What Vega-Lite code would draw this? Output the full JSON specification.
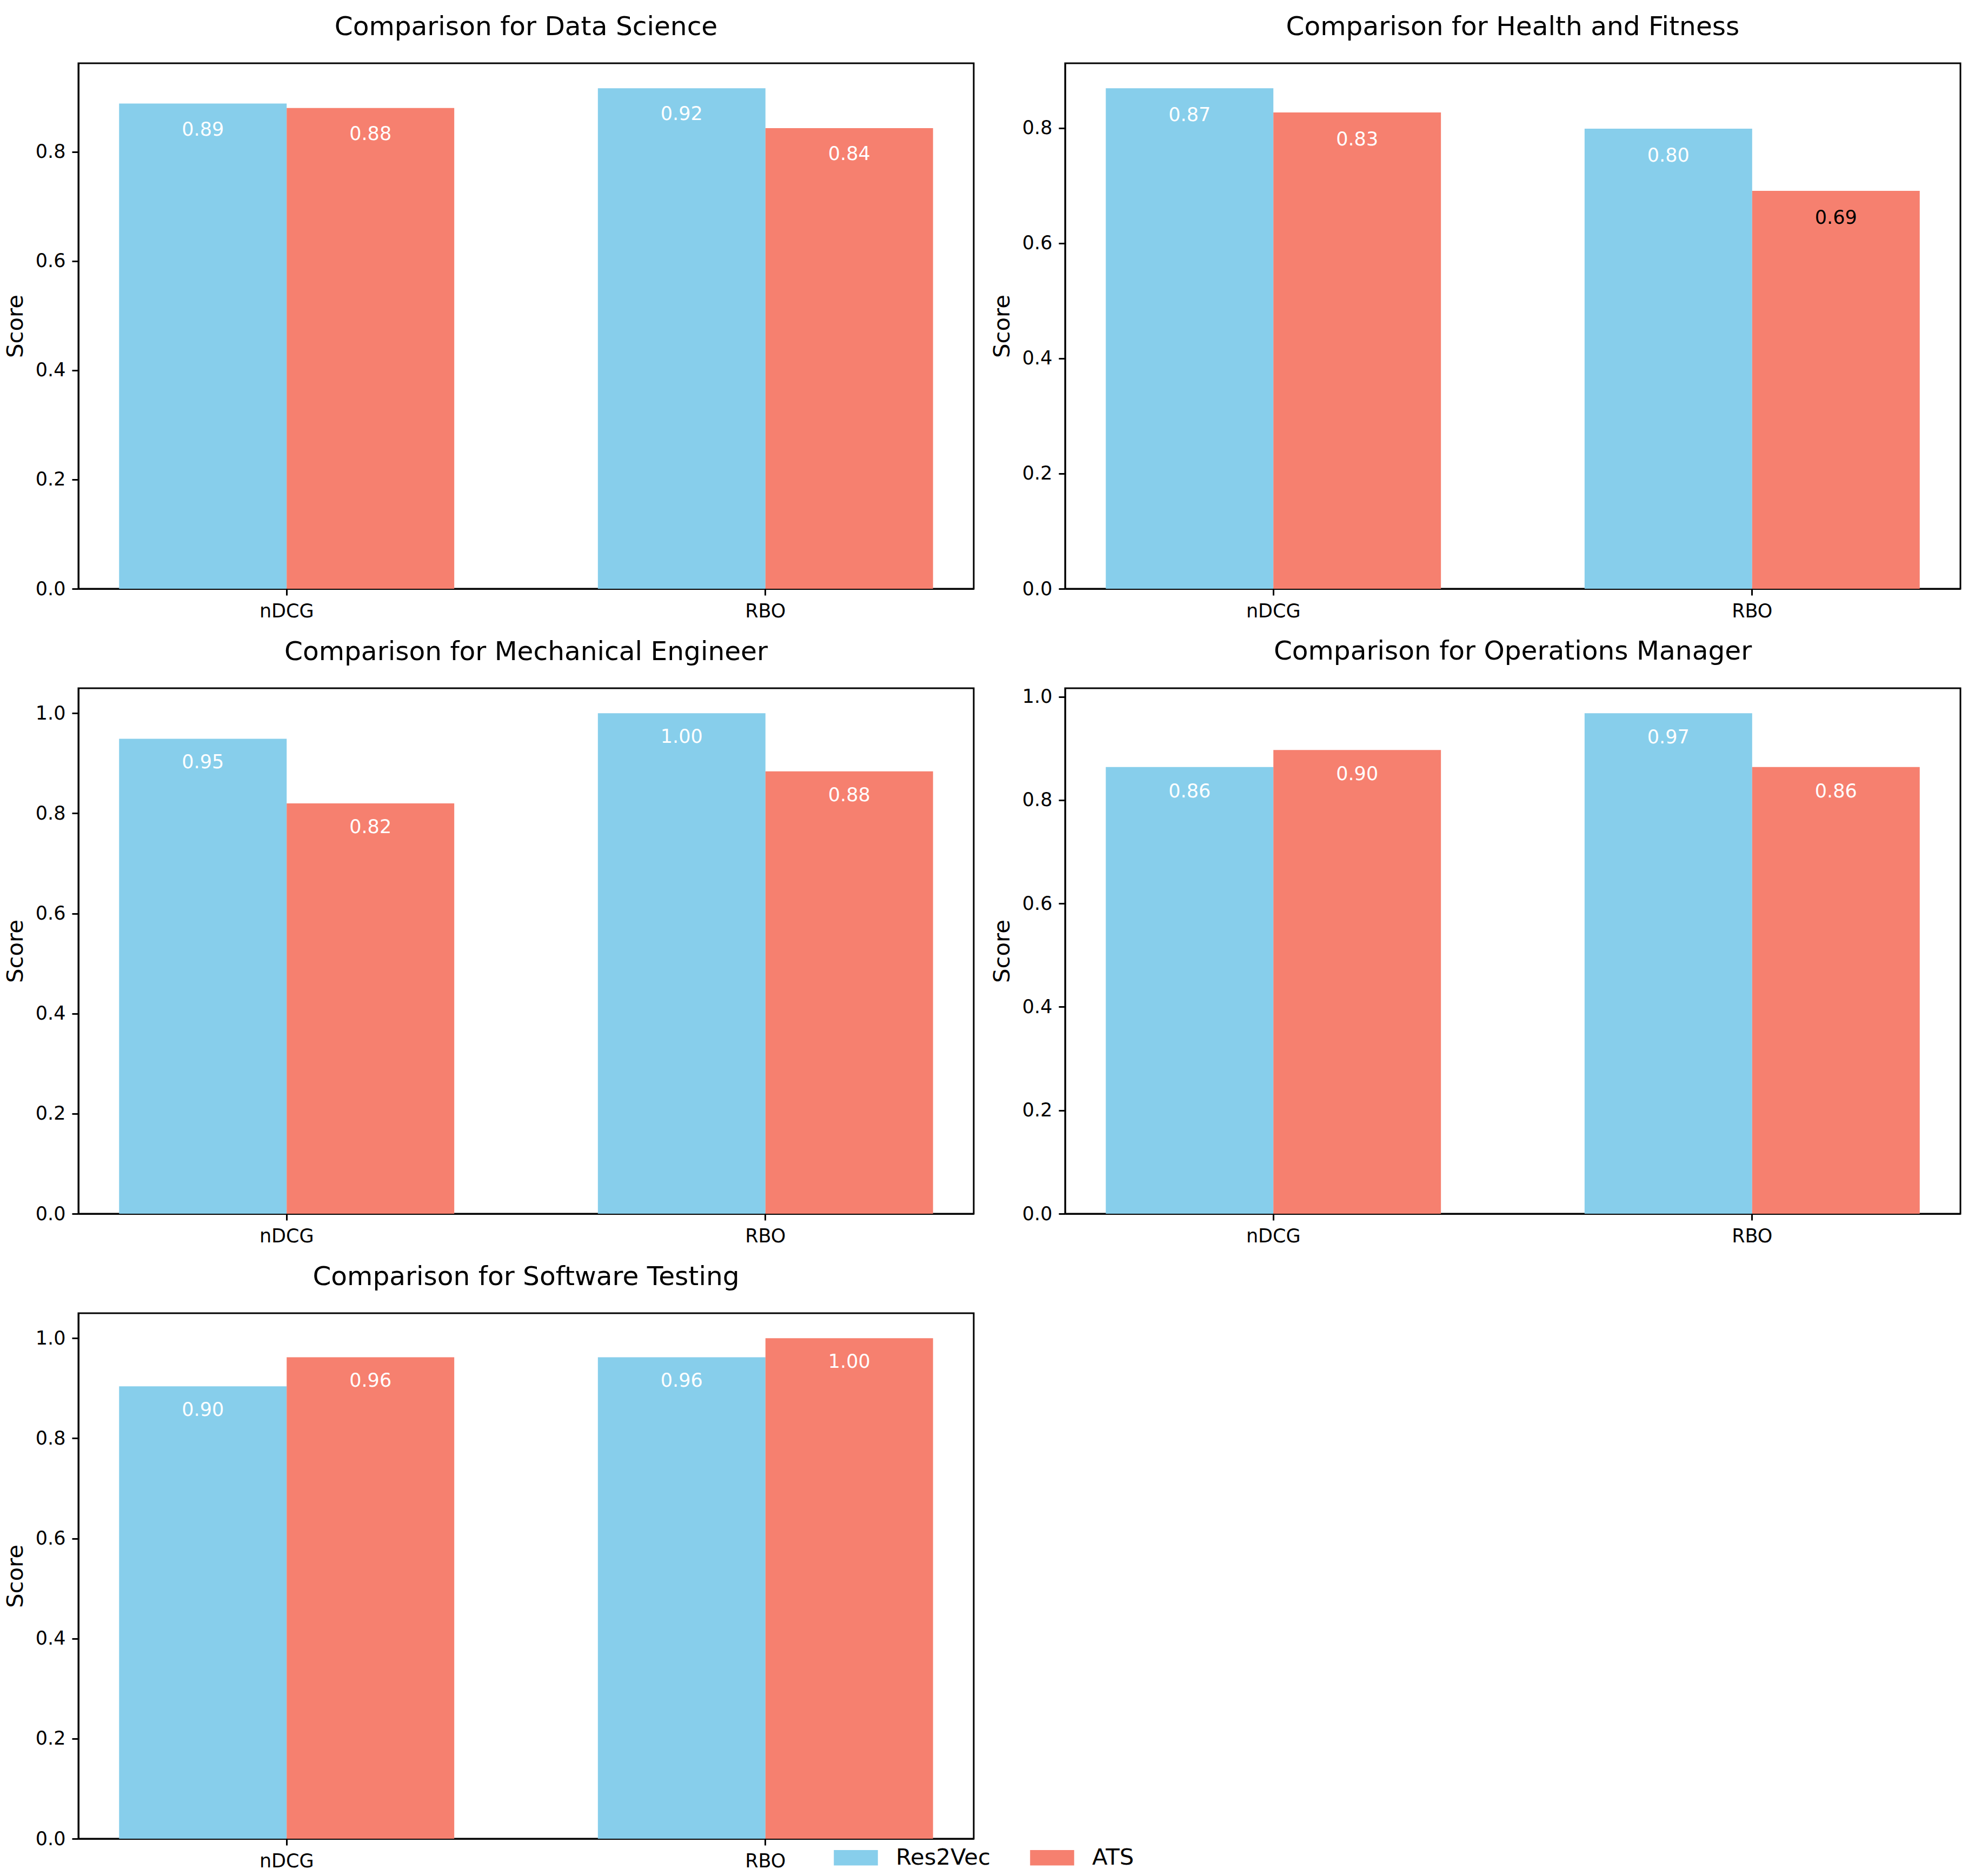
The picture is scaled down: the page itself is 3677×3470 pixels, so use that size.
{
  "$schema": "https://vega.github.io/schema/vega-lite/v6.json",
  "background": "white",
  "padding": {"left": 6, "top": 24, "right": 10, "bottom": 10},
  "bounds": "flush",
  "columns": 2,
  "spacing": {"column": 169, "row": 184},
  "datasets": {
    "scores": [
      {"job": "Data Science", "metric": "nDCG", "model": "Res2Vec", "score": 0.888},
      {"job": "Data Science", "metric": "nDCG", "model": "ATS", "score": 0.880},
      {"job": "Data Science", "metric": "RBO", "model": "Res2Vec", "score": 0.916},
      {"job": "Data Science", "metric": "RBO", "model": "ATS", "score": 0.843},
      {"job": "Health and Fitness", "metric": "nDCG", "model": "Res2Vec", "score": 0.869},
      {"job": "Health and Fitness", "metric": "nDCG", "model": "ATS", "score": 0.827},
      {"job": "Health and Fitness", "metric": "RBO", "model": "Res2Vec", "score": 0.799},
      {"job": "Health and Fitness", "metric": "RBO", "model": "ATS", "score": 0.691},
      {"job": "Mechanical Engineer", "metric": "nDCG", "model": "Res2Vec", "score": 0.949},
      {"job": "Mechanical Engineer", "metric": "nDCG", "model": "ATS", "score": 0.820},
      {"job": "Mechanical Engineer", "metric": "RBO", "model": "Res2Vec", "score": 1.0},
      {"job": "Mechanical Engineer", "metric": "RBO", "model": "ATS", "score": 0.884},
      {"job": "Operations Manager", "metric": "nDCG", "model": "Res2Vec", "score": 0.864},
      {"job": "Operations Manager", "metric": "nDCG", "model": "ATS", "score": 0.897},
      {"job": "Operations Manager", "metric": "RBO", "model": "Res2Vec", "score": 0.968},
      {"job": "Operations Manager", "metric": "RBO", "model": "ATS", "score": 0.864},
      {"job": "Software Testing", "metric": "nDCG", "model": "Res2Vec", "score": 0.904},
      {"job": "Software Testing", "metric": "nDCG", "model": "ATS", "score": 0.962},
      {"job": "Software Testing", "metric": "RBO", "model": "Res2Vec", "score": 0.962},
      {"job": "Software Testing", "metric": "RBO", "model": "ATS", "score": 1.0}
    ]
  },
  "concat": [
    {
      "title": "Comparison for Data Science",
      "width": 1656, "height": 972,
      "data": {"name": "scores"},
      "transform": [{"filter": "datum.job === 'Data Science'"}],
      "encoding": {
        "x": {"field": "metric", "type": "nominal", "sort": ["nDCG", "RBO"], "scale": {"paddingInner": 0.3, "paddingOuter": 0.085}, "axis": {"title": null, "labelAngle": 0}},
        "xOffset": {"field": "model", "type": "nominal", "sort": ["Res2Vec", "ATS"], "scale": {"paddingInner": 0, "paddingOuter": 0}},
        "y": {"field": "score", "type": "quantitative", "scale": {"domain": [0, 0.9618], "nice": false, "zero": true}, "axis": {"title": "Score", "values": [0, 0.2, 0.4, 0.6, 0.8], "format": ".1f"}}
      },
      "layer": [
        {"mark": {"type": "bar"}, "encoding": {"color": {"field": "model", "type": "nominal", "sort": ["Res2Vec", "ATS"], "scale": {"domain": ["Res2Vec", "ATS"], "range": ["#87CEEB", "#F6806F"]}, "legend": {"title": null, "orient": "none", "direction": "horizontal", "legendX": 1397, "legendY": 3278, "padding": 0, "labelFontSize": 41.7, "labelFont": "DejaVu Sans", "labelColor": "black", "labelLimit": 0, "symbolType": "M-1,-0.35H1V0.35H-1Z", "symbolSize": 6642, "symbolStrokeWidth": 0, "symbolOpacity": 1, "labelOffset": 33, "columnPadding": 73}}}},
        {"mark": {"type": "text", "dy": 48, "baseline": "middle", "align": "center", "fontSize": 35, "font": "DejaVu Sans"}, "encoding": {"text": {"field": "score", "type": "quantitative", "format": ".2f"}, "color": {"condition": {"test": "datum.score < 0.7", "value": "black"}, "value": "white"}}}
      ]
    },
    {
      "title": "Comparison for Health and Fitness",
      "width": 1656, "height": 972,
      "data": {"name": "scores"},
      "transform": [{"filter": "datum.job === 'Health and Fitness'"}],
      "encoding": {
        "x": {"field": "metric", "type": "nominal", "sort": ["nDCG", "RBO"], "scale": {"paddingInner": 0.3, "paddingOuter": 0.085}, "axis": {"title": null, "labelAngle": 0}},
        "xOffset": {"field": "model", "type": "nominal", "sort": ["Res2Vec", "ATS"], "scale": {"paddingInner": 0, "paddingOuter": 0}},
        "y": {"field": "score", "type": "quantitative", "scale": {"domain": [0, 0.9125], "nice": false, "zero": true}, "axis": {"title": "Score", "values": [0, 0.2, 0.4, 0.6, 0.8], "format": ".1f"}}
      },
      "layer": [
        {"mark": {"type": "bar"}, "encoding": {"color": {"field": "model", "type": "nominal", "sort": ["Res2Vec", "ATS"], "scale": {"domain": ["Res2Vec", "ATS"], "range": ["#87CEEB", "#F6806F"]}}}},
        {"mark": {"type": "text", "dy": 50, "baseline": "middle", "align": "center", "fontSize": 35, "font": "DejaVu Sans"}, "encoding": {"text": {"field": "score", "type": "quantitative", "format": ".2f"}, "color": {"condition": {"test": "datum.score < 0.7", "value": "black"}, "value": "white"}}}
      ]
    },
    {
      "title": "Comparison for Mechanical Engineer",
      "width": 1656, "height": 972,
      "data": {"name": "scores"},
      "transform": [{"filter": "datum.job === 'Mechanical Engineer'"}],
      "encoding": {
        "x": {"field": "metric", "type": "nominal", "sort": ["nDCG", "RBO"], "scale": {"paddingInner": 0.3, "paddingOuter": 0.085}, "axis": {"title": null, "labelAngle": 0}},
        "xOffset": {"field": "model", "type": "nominal", "sort": ["Res2Vec", "ATS"], "scale": {"paddingInner": 0, "paddingOuter": 0}},
        "y": {"field": "score", "type": "quantitative", "scale": {"domain": [0, 1.05], "nice": false, "zero": true}, "axis": {"title": "Score", "values": [0, 0.2, 0.4, 0.6, 0.8, 1.0], "format": ".1f"}}
      },
      "layer": [
        {"mark": {"type": "bar"}, "encoding": {"color": {"field": "model", "type": "nominal", "sort": ["Res2Vec", "ATS"], "scale": {"domain": ["Res2Vec", "ATS"], "range": ["#87CEEB", "#F6806F"]}}}},
        {"mark": {"type": "text", "dy": 44, "baseline": "middle", "align": "center", "fontSize": 35, "font": "DejaVu Sans"}, "encoding": {"text": {"field": "score", "type": "quantitative", "format": ".2f"}, "color": {"condition": {"test": "datum.score < 0.7", "value": "black"}, "value": "white"}}}
      ]
    },
    {
      "title": "Comparison for Operations Manager",
      "width": 1656, "height": 972,
      "data": {"name": "scores"},
      "transform": [{"filter": "datum.job === 'Operations Manager'"}],
      "encoding": {
        "x": {"field": "metric", "type": "nominal", "sort": ["nDCG", "RBO"], "scale": {"paddingInner": 0.3, "paddingOuter": 0.085}, "axis": {"title": null, "labelAngle": 0}},
        "xOffset": {"field": "model", "type": "nominal", "sort": ["Res2Vec", "ATS"], "scale": {"paddingInner": 0, "paddingOuter": 0}},
        "y": {"field": "score", "type": "quantitative", "scale": {"domain": [0, 1.0164], "nice": false, "zero": true}, "axis": {"title": "Score", "values": [0, 0.2, 0.4, 0.6, 0.8, 1.0], "format": ".1f"}}
      },
      "layer": [
        {"mark": {"type": "bar"}, "encoding": {"color": {"field": "model", "type": "nominal", "sort": ["Res2Vec", "ATS"], "scale": {"domain": ["Res2Vec", "ATS"], "range": ["#87CEEB", "#F6806F"]}}}},
        {"mark": {"type": "text", "dy": 45, "baseline": "middle", "align": "center", "fontSize": 35, "font": "DejaVu Sans"}, "encoding": {"text": {"field": "score", "type": "quantitative", "format": ".2f"}, "color": {"condition": {"test": "datum.score < 0.7", "value": "black"}, "value": "white"}}}
      ]
    },
    {
      "title": "Comparison for Software Testing",
      "width": 1656, "height": 972,
      "data": {"name": "scores"},
      "transform": [{"filter": "datum.job === 'Software Testing'"}],
      "encoding": {
        "x": {"field": "metric", "type": "nominal", "sort": ["nDCG", "RBO"], "scale": {"paddingInner": 0.3, "paddingOuter": 0.085}, "axis": {"title": null, "labelAngle": 0}},
        "xOffset": {"field": "model", "type": "nominal", "sort": ["Res2Vec", "ATS"], "scale": {"paddingInner": 0, "paddingOuter": 0}},
        "y": {"field": "score", "type": "quantitative", "scale": {"domain": [0, 1.05], "nice": false, "zero": true}, "axis": {"title": "Score", "values": [0, 0.2, 0.4, 0.6, 0.8, 1.0], "format": ".1f"}}
      },
      "layer": [
        {"mark": {"type": "bar"}, "encoding": {"color": {"field": "model", "type": "nominal", "sort": ["Res2Vec", "ATS"], "scale": {"domain": ["Res2Vec", "ATS"], "range": ["#87CEEB", "#F6806F"]}}}},
        {"mark": {"type": "text", "dy": 44, "baseline": "middle", "align": "center", "fontSize": 35, "font": "DejaVu Sans"}, "encoding": {"text": {"field": "score", "type": "quantitative", "format": ".2f"}, "color": {"condition": {"test": "datum.score < 0.7", "value": "black"}, "value": "white"}}}
      ]
    }
  ],
  "config": {
    "font": "DejaVu Sans",
    "view": {"stroke": "black", "strokeWidth": 3, "fill": "white"},
    "title": {"font": "DejaVu Sans", "fontSize": 48.6, "fontWeight": "normal", "color": "black", "offset": 41, "anchor": "middle"},
    "axis": {
      "grid": false,
      "domain": true, "domainColor": "black", "domainWidth": 3,
      "ticks": true, "tickColor": "black", "tickWidth": 3, "tickSize": 12,
      "labelFont": "DejaVu Sans", "labelFontSize": 35, "labelColor": "black", "labelPadding": 12,
      "titleFont": "DejaVu Sans", "titleFontSize": 41.7, "titleFontWeight": "normal", "titleColor": "black", "titlePadding": 15
    },
    "legend": {"labelFont": "DejaVu Sans"}
  }
}
